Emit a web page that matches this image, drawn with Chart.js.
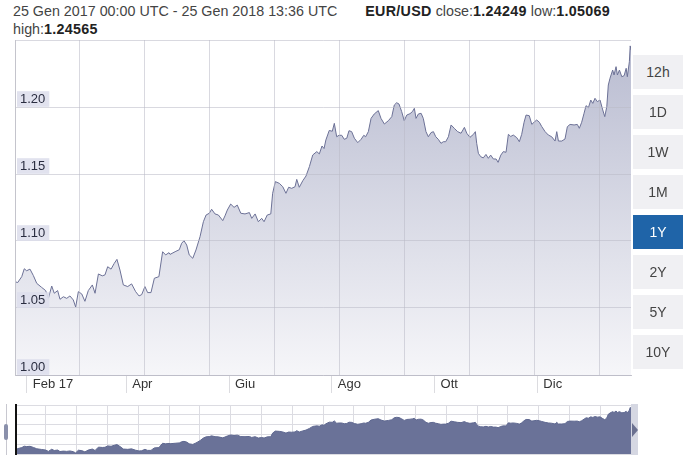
<!DOCTYPE html>
<html>
<head>
<meta charset="utf-8">
<script src="https://cdn.jsdelivr.net/npm/chart.js@4.4.1/dist/chart.umd.min.js"></script>
<style>
  body { margin: 0; background: #fff; font-family: "Liberation Sans", Arial, sans-serif; }
  #page { position: relative; width: 692px; height: 475px; overflow: hidden; }
  #head { position: absolute; left: 13px; top: 2px; font-size: 14.3px; line-height: 18px; color: #444; white-space: nowrap; }
  #head b { color: #222; letter-spacing: 0.3px; }
  #head .pair { margin-left: 28px; }
  #main { position: absolute; left: 0; top: 0; }
  #nav { position: absolute; left: 0; top: 400px; }
  .btn { position: absolute; left: 633px; width: 50px; height: 34px; line-height: 34px; text-align: center; font-size: 14px; color: #444; background: #f0f0f3; }
  .btn.on { background: #1f64a8; color: #fff; }
  .navline { position: absolute; }
</style>
</head>
<body>
<div id="page">
  <div id="head">25 Gen 2017 00:00 UTC - 25 Gen 2018 13:36 UTC<span class="pair"><b>EUR/USD</b> close:<b>1.24249</b> low:<b>1.05069</b></span><br>high:<b>1.24565</b></div>
  <canvas id="main" width="640" height="400"></canvas>
  <canvas id="nav" width="640" height="58"></canvas>
  <div id="btns"></div>
  <div class="navline" style="left:6px;top:404px;width:1px;height:51px;background:#c8c8d0"></div>
  <div class="navline" style="left:4px;top:424px;width:4px;height:16px;border-radius:2px;background:#8a90ab"></div>
  <div class="navline" style="left:15px;top:404px;width:2px;height:51px;background:#111"></div>
  <div class="navline" style="left:631px;top:404px;width:7px;height:51px;background:#d5d7e2"></div>
  <div class="navline" style="left:632px;top:423px;width:0;height:0;border-top:7px solid transparent;border-bottom:7px solid transparent;border-left:6px solid #6a7090"></div>
</div>
<script>
// days since 25 Gen 2017 00:00 UTC, EUR/USD rate
const days = [
  0, 1.6, 4.0, 5.5, 6.9, 8.9, 10.9, 12.9, 15.8, 18.2, 19.8, 21.8, 23.3, 25.3, 26.7, 28.7,
  30.7, 32.6, 34.6, 36.0, 37.6, 39.6, 41.5, 43.5, 45.9, 47.5, 49.5, 51.8, 53.4, 55.0, 57.0,
  58.9, 60.5, 62.3, 64.3, 66.9, 69.2, 71.6, 73.6, 75.2, 77.1, 78.7, 80.7, 82.7, 85.4, 87.6,
  89.4, 91.4, 92.0, 95.0, 97.5, 98.9, 100.3, 101.9, 103.4, 105.5, 107.4, 109.8, 111.8, 113.4,
  115.3, 116.7, 118.7, 120.7, 123.3, 124.6, 126.0, 128.0, 130.0, 131.9, 134.0, 136.5, 139.1,
  140.5, 142.5, 144.4, 146.4, 147.8, 149.7, 151.8, 152.9, 154.5, 156.9, 158.9, 160.8, 162.4,
  164.2, 166.2, 167.2, 168.7, 170.8, 172.7, 174.7, 176.7, 179.1, 180.6, 182.2, 183.4, 184.5,
  186.5, 188.3, 189.5, 190.9, 192.3, 193.9, 195.4, 196.9, 198.2, 199.8, 201.4, 203.4, 205.4,
  207.0, 208.1, 209.7, 211.3, 213.2, 215.6, 217.2, 219.2, 221.6, 223.6, 225.1, 226.5, 227.9,
  229.5, 231.0, 232.5, 234.4, 235.8, 237.0, 238.0, 239.4, 241.0, 242.3, 243.9, 245.3, 246.9,
  248.3, 249.7, 251.2, 252.8, 254.2, 255.6, 257.2, 258.8, 260.7, 262.7, 264.7, 266.7, 268.1,
  270.0, 272.0, 273.2, 274.0, 275.0, 276.4, 277.9, 279.5, 280.9, 282.3, 283.9, 285.5, 286.7,
  288.3, 289.8, 291.4, 292.8, 294.2, 295.7, 297.8, 299.3, 300.7, 302.1, 303.3, 305.2, 306.7,
  308.0, 309.6, 311.2, 312.6, 314.6, 316.5, 318.5, 320.5, 321.5, 322.5, 324.5, 326.4, 327.8,
  329.4, 331.8, 333.7, 334.9, 336.3, 337.7, 338.9, 340.3, 341.7, 342.9, 344.2, 345.6, 347.2,
  348.8, 350.0, 351.2, 352.1, 353.1, 354.7, 355.5, 356.7, 357.5, 358.7, 360.1, 361.5, 362.7,
  363.4, 364.6, 365.1, 365.57
];
const rates = [
  1.0696, 1.0690, 1.0734, 1.0793, 1.0778, 1.0790, 1.0742, 1.0684, 1.0654, 1.0630, 1.0572, 1.0664, 1.0610, 1.0630, 1.0565, 1.0584,
  1.0572, 1.0590, 1.0560, 1.0507, 1.0622, 1.0605, 1.0550, 1.0630, 1.0672, 1.0610, 1.0754, 1.0740, 1.0747, 1.0808, 1.0790,
  1.0833, 1.0863, 1.0783, 1.0672, 1.0660, 1.0680, 1.0622, 1.0590, 1.0600, 1.0660, 1.0615, 1.0615, 1.0722, 1.0734, 1.0920,
  1.0896, 1.0913, 1.0900, 1.0920, 1.0935, 1.0983, 1.1002, 1.0970, 1.0896, 1.0871, 1.0933, 1.1032, 1.1144, 1.1194,
  1.1207, 1.1237, 1.1202, 1.1194, 1.1152, 1.1187, 1.1231, 1.1276, 1.1251, 1.1268, 1.1207, 1.1202, 1.1212,
  1.1169, 1.1202, 1.1144, 1.1169, 1.1144, 1.1194, 1.1202, 1.1356, 1.1443, 1.1430, 1.1405, 1.1356, 1.1401,
  1.1393, 1.1405, 1.1460, 1.1401, 1.1450, 1.1485, 1.1555, 1.1642, 1.1667, 1.1650, 1.1709, 1.1690, 1.1754,
  1.1825, 1.1819, 1.1878, 1.1778, 1.1789, 1.1789, 1.1759, 1.1767, 1.1823, 1.1816, 1.1767, 1.1734, 1.1759,
  1.1789, 1.1778, 1.1816, 1.1915, 1.1948, 1.1973, 1.1915, 1.1873, 1.1898, 1.1928, 1.2015, 1.2032, 1.2022,
  1.1965, 1.1898, 1.1940, 1.1950, 1.1965, 1.1990, 1.1915, 1.1948, 1.1953, 1.1915, 1.1816, 1.1778, 1.1809,
  1.1816, 1.1778, 1.1759, 1.1729, 1.1741, 1.1741, 1.1778, 1.1866, 1.1841, 1.1816, 1.1804, 1.1848, 1.1804,
  1.1774, 1.1795, 1.1816, 1.1729, 1.1654, 1.1629, 1.1620, 1.1646, 1.1617, 1.1641, 1.1612, 1.1612, 1.1587,
  1.1641, 1.1667, 1.1662, 1.1796, 1.1780, 1.1791, 1.1771, 1.1741, 1.1796, 1.1886, 1.1940, 1.1935, 1.1870,
  1.1886, 1.1903, 1.1886, 1.1854, 1.1816, 1.1791, 1.1778, 1.1746, 1.1816, 1.1746, 1.1746, 1.1761, 1.1853,
  1.1870, 1.1866, 1.1870, 1.1841, 1.1886, 1.1953, 1.2010, 1.1995, 1.2052, 1.2027, 1.2065, 1.2040, 1.2052,
  1.1978, 1.1928, 1.2002, 1.2164, 1.2214, 1.2276, 1.2239, 1.2301, 1.2239, 1.2276, 1.2226, 1.2234, 1.2289,
  1.2226, 1.2338, 1.2456, 1.2425
];
const monthDays = [7, 66, 127, 188, 249, 310];
const monthLabels = ['Feb 17', 'Apr', 'Giu', 'Ago', 'Ott', 'Dic'];
const yTicks = [1.00, 1.05, 1.10, 1.15, 1.20, 1.25];
const ranges = ['12h', '1D', '1W', '1M', '1Y', '2Y', '5Y', '10Y'];
const activeRange = '1Y';

const btns = document.getElementById('btns');
ranges.forEach((r, i) => {
  const d = document.createElement('div');
  d.className = 'btn' + (r === activeRange ? ' on' : '');
  d.style.top = (55 + i * 40) + 'px';
  d.textContent = r;
  btns.appendChild(d);
});

const points = days.map((d, i) => ({x: d, y: rates[i]}));
const gridCol = 'rgba(185,185,198,0.55)';

new Chart(document.getElementById('main').getContext('2d'), {
  type: 'line',
  data: {
    datasets: [{
      data: points,
      borderColor: '#6c7196',
      borderWidth: 1,
      pointRadius: 0,
      tension: 0,
      fill: 'start',
      backgroundColor: (ctx) => {
        const a = ctx.chart.chartArea;
        if (!a) return 'rgba(200,202,218,1)';
        const g = ctx.chart.ctx.createLinearGradient(0, a.top, 0, a.bottom);
        g.addColorStop(0, 'rgb(184,187,208)');
        g.addColorStop(1, 'rgb(246,246,249)');
        return g;
      }
    }]
  },
  options: {
    responsive: false,
    animation: false,
    layout: {padding: {left: 15, right: 9, top: 40, bottom: 5}},
    plugins: {legend: {display: false}, tooltip: {enabled: false}},
    scales: {
      x: {
        type: 'linear', min: 0, max: 365.57,
        afterBuildTicks: (s) => { s.ticks = monthDays.map(v => ({value: v})); },
        afterFit: (s) => { s.height = 20; },
        grid: {drawOnChartArea: false, tickLength: 18, color: '#dcdce0'},
        border: {color: '#c4c4cc', z: 1},
        ticks: {
          align: 'start', labelOffset: 6, padding: -16, maxRotation: 0,
          autoSkip: false, color: '#333', font: {size: 13, family: 'Liberation Sans'},
          callback: (v, i) => monthLabels[i]
        }
      },
      xg: {
        type: 'linear', position: 'top', min: 0, max: 9.477,
        afterBuildTicks: (s) => { s.ticks = [1, 2, 3, 4, 5, 6, 7, 8, 9].map(v => ({value: v})); },
        afterFit: (s) => { s.height = 0; },
        grid: {color: gridCol, drawTicks: false, z: 1},
        border: {display: false},
        ticks: {display: false}
      },
      y: {
        min: 1.00, max: 1.25,
        afterBuildTicks: (s) => { s.ticks = yTicks.map(v => ({value: v})); },
        afterFit: (s) => { s.width = 0; },
        grid: {color: gridCol, drawTicks: false, z: 1},
        border: {color: '#c4c4cc', z: 1},
        ticks: {
          mirror: true, padding: 5, labelOffset: -8, z: 2,
          color: '#2a2d40', font: {size: 13, family: 'Liberation Sans'},
          showLabelBackdrop: (c) => c.tick && c.tick.value < 1.24,
          backdropColor: 'rgba(222,223,236,0.9)',
          backdropPadding: {left: 3, right: 4, top: 0, bottom: 0},
          callback: (v) => v < 1.24 ? v.toFixed(2) : ''
        }
      }
    }
  }
});

new Chart(document.getElementById('nav').getContext('2d'), {
  type: 'line',
  data: {
    datasets: [{
      data: points,
      borderColor: '#5f6890',
      borderWidth: 1,
      pointRadius: 0,
      tension: 0,
      fill: 'start',
      backgroundColor: 'rgb(106,114,152)'
    }]
  },
  options: {
    responsive: false,
    animation: false,
    layout: {padding: {left: 15, right: 9, top: 5, bottom: 4}},
    plugins: {legend: {display: false}, tooltip: {enabled: false}},
    scales: {
      x: {
        type: 'linear', min: 0, max: 365.57,
        afterBuildTicks: (s) => {
          const t = [];
          for (let k = 0; k <= 20; k++) t.push({value: s.min + k * (s.max - s.min) / 20});
          s.ticks = t;
        },
        afterFit: (s) => { s.height = 0; },
        grid: {color: '#dcdce2', drawTicks: false},
        border: {display: false},
        ticks: {display: false}
      },
      y: {
        min: 1.046, max: 1.256,
        afterBuildTicks: (s) => {
          const t = [];
          for (let k = 0; k <= 5; k++) t.push({value: s.min + k * (s.max - s.min) / 5});
          s.ticks = t;
        },
        afterFit: (s) => { s.width = 0; },
        grid: {color: '#dcdce2', drawTicks: false},
        border: {display: false},
        ticks: {display: false}
      }
    }
  }
});
</script>
</body>
</html>
